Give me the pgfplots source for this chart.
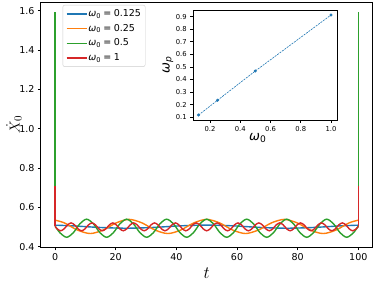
\documentclass[border=0pt]{standalone}
\usepackage{fontspec}
\setmainfont{DejaVu Sans}
\usepackage{pgfplots}
\pgfplotsset{compat=1.18}
\definecolor{cA}{HTML}{1F77B4}
\definecolor{cB}{HTML}{FF7F0E}
\definecolor{cC}{HTML}{2CA02C}
\definecolor{cD}{HTML}{D62728}
\begin{document}
\begin{tikzpicture}
\path[use as bounding box] (-40.7pt,-34.5pt) rectangle (333.3pt,247.5pt);
\begin{axis}[
  at={(0pt,0pt)}, anchor=south west, scale only axis,
  width=332pt, height=245.5pt,
  xmin=-4.75, xmax=104.75, ymin=0.396, ymax=1.644,
  xtick={0,20,40,60,80,100},
  ytick={0.4,0.6,0.8,1.0,1.2,1.4,1.6},
  yticklabel style={/pgf/number format/.cd,fixed,fixed zerofill,precision=1},
  /pgf/number format/assume math mode=true,
  tick label style={font=\fontsize{9.5}{10}\selectfont},
  xtick pos=bottom, ytick pos=left, tick align=outside,
  major tick length=2.8pt,
  axis line style={line width=0.65pt},
  tick style={black,line width=0.65pt},
  xlabel={$t$}, ylabel={$\dot{X}_0$},
  xlabel style={at={(axis description cs:0.5,-0.104)},anchor=center,font=\fontsize{16}{18}\selectfont},
  ylabel style={at={(axis description cs:-0.0804,0.5)},anchor=center,font=\fontsize{15}{17}\selectfont},
  legend style={at={(axis description cs:0.066,0.988)}, anchor=north west,
    draw=black!20, rounded corners=2pt, fill=white, fill opacity=0.8, text opacity=1,
    font=\fontsize{9.5}{10}\selectfont, inner xsep=3pt, inner ysep=2.5pt, row sep=2.3pt,
    nodes={inner sep=1.2pt, text height=7.5pt, text depth=2.5pt}},
  legend cell align=left,
  legend image code/.code={\draw[#1,line width=1.4pt] (0pt,0pt) -- (20pt,0pt);},
]
\addplot[cA, smooth, line width=1.4pt] coordinates {
(0,0.5095)(5.83,0.506)(14.67,0.498)(23.5,0.494)(32.33,0.498)(41.17,0.506)(50,0.510)
(58.83,0.506)(67.67,0.498)(76.5,0.494)(85.33,0.498)(94.17,0.506)(100,0.5095)};
\addlegendentry{\textit{ω}\textsubscript{0}\hspace{0.25em}=\hspace{0.25em}0.125}
\addplot[cB, smooth, line width=1.4pt] coordinates {
(0,0.535)(3.07,0.521)(7.33,0.485)(11.6,0.467)(15.87,0.485)(20.13,0.521)(24.4,0.539)
(28.67,0.521)(32.93,0.485)(37.2,0.467)(41.47,0.485)(45.73,0.521)(50,0.539)
(54.27,0.521)(58.53,0.485)(62.8,0.467)(67.07,0.485)(71.33,0.521)(75.6,0.539)
(79.87,0.521)(84.13,0.485)(88.4,0.467)(92.67,0.485)(96.93,0.521)(100,0.535)};
\addlegendentry{\textit{ω}\textsubscript{0}\hspace{0.25em}=\hspace{0.25em}0.25}
\addplot[cC, smooth, line width=1.4pt] coordinates {
(0,0.505)(1.6,0.471)(3.8,0.448)(6.0,0.471)(8.2,0.517)(10.4,0.540)(12.6,0.517)
(14.8,0.471)(17.0,0.448)(19.2,0.471)(21.4,0.517)(23.6,0.540)(25.8,0.517)(28.0,0.471)
(30.2,0.448)(32.4,0.471)(34.6,0.517)(36.8,0.540)(39.0,0.517)(41.2,0.471)(43.4,0.448)
(45.6,0.471)(47.8,0.517)(50.0,0.540)(52.2,0.517)(54.4,0.471)(56.6,0.448)(58.8,0.471)
(61.0,0.517)(63.2,0.540)(65.4,0.517)(67.6,0.471)(69.8,0.448)(72.0,0.471)(74.2,0.517)
(76.4,0.540)(78.6,0.517)(80.8,0.471)(83.0,0.448)(85.2,0.471)(87.4,0.517)(89.6,0.540)
(91.8,0.517)(94.0,0.471)(96.2,0.448)(98.4,0.471)(100,0.505)};
\addlegendentry{\textit{ω}\textsubscript{0}\hspace{0.25em}=\hspace{0.25em}0.5}
\addplot[cC, line width=1.4pt, forget plot] coordinates {(0,0.505)(0,1.595)};
\addplot[cC, line width=1.4pt, forget plot] coordinates {(100,0.505)(100,1.595)};
\addplot[cD, smooth, line width=1.4pt] coordinates {
(0,0.503)(0.69,0.491)(1.84,0.481)(2.99,0.491)(4.13,0.511)(5.28,0.521)(6.43,0.511)(7.57,0.491)
(8.72,0.481)(9.87,0.491)(11.01,0.511)(12.16,0.521)(13.31,0.511)(14.45,0.491)
(15.60,0.481)(16.75,0.491)(17.89,0.511)(19.04,0.521)(20.19,0.511)(21.33,0.491)
(22.48,0.481)(23.63,0.491)(24.77,0.511)(25.92,0.521)(27.07,0.511)(28.21,0.491)
(29.36,0.481)(30.51,0.491)(31.65,0.511)(32.80,0.521)(33.95,0.511)(35.09,0.491)
(36.24,0.481)(37.39,0.491)(38.53,0.511)(39.68,0.521)(40.83,0.511)(41.97,0.491)
(43.12,0.481)(44.27,0.491)(45.41,0.511)(46.56,0.521)(47.71,0.511)(48.85,0.491)
(50.00,0.481)(51.15,0.491)(52.29,0.511)(53.44,0.521)(54.59,0.511)(55.73,0.491)
(56.88,0.481)(58.03,0.491)(59.17,0.511)(60.32,0.521)(61.47,0.511)(62.61,0.491)
(63.76,0.481)(64.91,0.491)(66.05,0.511)(67.20,0.521)(68.35,0.511)(69.49,0.491)
(70.64,0.481)(71.79,0.491)(72.93,0.511)(74.08,0.521)(75.23,0.511)(76.37,0.491)
(77.52,0.481)(78.67,0.491)(79.81,0.511)(80.96,0.521)(82.11,0.511)(83.25,0.491)
(84.40,0.481)(85.55,0.491)(86.69,0.511)(87.84,0.521)(88.99,0.511)(90.13,0.491)
(91.28,0.481)(92.43,0.491)(93.57,0.511)(94.72,0.521)(95.87,0.511)(97.01,0.491)
(98.16,0.481)(99.31,0.491)(100,0.503)};
\addlegendentry{\textit{ω}\textsubscript{0}\hspace{0.25em}=\hspace{0.25em}1}
\addplot[cD, line width=1.4pt, forget plot] coordinates {(0,0.503)(0,0.71)};
\addplot[cD, line width=1.4pt, forget plot] coordinates {(100,0.503)(100,0.71)};
\end{axis}
\begin{axis}[
  at={(152.3pt,127.5pt)}, anchor=south west, scale only axis,
  width=144pt, height=110pt,
  axis background/.style={fill=white},
  xmin=0.088, xmax=1.04, ymin=0.078, ymax=0.953,
  xtick={0.2,0.4,0.6,0.8,1.0},
  ytick={0.1,0.2,0.3,0.4,0.5,0.6,0.7,0.8,0.9},
  /pgf/number format/.cd,fixed,fixed zerofill,precision=1,assume math mode=true,
  /pgfplots/.cd,
  tick label style={font=\fontsize{6.8}{7}\selectfont},
  xtick pos=bottom, ytick pos=left, tick align=outside,
  major tick length=2.8pt,
  axis line style={line width=0.65pt},
  tick style={black,line width=0.65pt},
  xlabel={\textit{ω}\textsubscript{0}},
  ylabel={\textit{ω}\textsubscript{\textit{p}}},
  xlabel style={at={(axis description cs:0.45,-0.164)},anchor=center,font=\fontsize{13}{15}\selectfont},
  ylabel style={at={(axis description cs:-0.174,0.5)},anchor=center,font=\fontsize{13}{15}\selectfont},
]
\addplot[cA, line width=0.6pt, dash pattern=on 2pt off 1pt, mark=*, mark size=1.2pt, mark options={solid}]
coordinates {(0.125,0.118)(0.25,0.235)(0.5,0.468)(1.0,0.913)};
\end{axis}
\end{tikzpicture}
\end{document}
